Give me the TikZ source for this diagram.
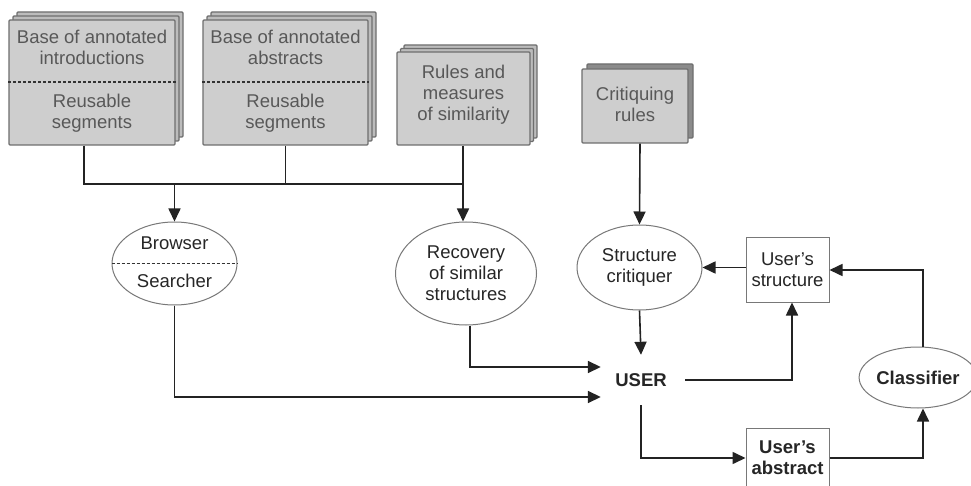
\documentclass[tikz,border=0pt]{standalone}
\usepackage{fontspec}
\setmainfont{Liberation Sans}
\usetikzlibrary{arrows.meta,shapes.geometric,calc}
\definecolor{boxfill}{RGB}{206,206,206}
\definecolor{backfill}{RGB}{188,188,188}
\definecolor{boxdraw}{RGB}{110,110,110}
\definecolor{boxtext}{RGB}{88,88,88}
\definecolor{linecol}{RGB}{35,35,35}
\definecolor{elldraw}{RGB}{120,120,120}
\tikzset{
  dbbox/.style={draw=boxdraw, fill=boxfill, line width=1.2pt, rectangle, rounded corners=1pt, inner sep=0pt},
  backbox/.style={draw=boxdraw, fill=backfill, line width=1.2pt, rectangle, rounded corners=1pt, inner sep=0pt},
  boxtxt/.style={text=boxtext, align=center, font=\fontsize{18.5}{21}\selectfont, inner sep=0pt},
  proc/.style={ellipse, draw=elldraw, line width=1pt, fill=white, inner sep=0pt, align=center, font=\fontsize{18.5}{21}\selectfont, text=black!85},
  plainbox/.style={rectangle, draw=elldraw, line width=1pt, fill=white, inner sep=0pt, align=center, font=\fontsize{18.5}{21}\selectfont, text=black!85},
  plaintxt/.style={inner sep=0pt, font=\fontsize{18.5}{21}\selectfont, text=black!85},
  wire/.style={draw=linecol, line width=1.6pt},
  arr/.style={wire, -{Triangle[length=13pt,width=12pt]}},
  sep/.style={draw=black!80, line width=1.2pt, dash pattern=on 3pt off 2pt},
}
\begin{document}
\begin{tikzpicture}[x=1pt,y=-1pt]
\clip (0,0) rectangle (971,486);
\fill[white] (0,0) rectangle (971,486);

% Box 1
\node[backbox, minimum width=166pt, minimum height=125pt, xshift=8pt, yshift=8pt] (b1c) at (92,82.5) {};
\node[backbox, minimum width=166pt, minimum height=125pt, xshift=4pt, yshift=4pt] (b1b) at (92,82.5) {};
\node[dbbox, minimum width=166pt, minimum height=125pt] (b1) at (92,82.5) {};
\draw[sep] (b1.west |- 0,82) -- (b1.east |- 0,82);
\node[boxtxt] (b1t) at (92,47) {Base of annotated\\introductions};
\node[boxtxt] (b1s) at (92,113) {Reusable\\segments};

% Box 2
\node[backbox, minimum width=165pt, minimum height=125pt, xshift=8pt, yshift=8pt] (b2c) at (285.5,82.5) {};
\node[backbox, minimum width=165pt, minimum height=125pt, xshift=4pt, yshift=4pt] (b2b) at (285.5,82.5) {};
\node[dbbox, minimum width=165pt, minimum height=125pt] (b2) at (285.5,82.5) {};
\draw[sep] (b2.west |- 0,82) -- (b2.east |- 0,82);
\node[boxtxt] (b2t) at (285.5,47) {Base of annotated\\abstracts};
\node[boxtxt] (b2s) at (285.5,113) {Reusable\\segments};

% Box 3
\node[backbox, minimum width=133pt, minimum height=93pt, xshift=7pt, yshift=7pt] (b3c) at (463.5,98.5) {};
\node[backbox, minimum width=133pt, minimum height=93pt, xshift=3.5pt, yshift=3.5pt] (b3b) at (463.5,98.5) {};
\node[dbbox, minimum width=133pt, minimum height=93pt] (b3) at (463.5,98.5) {};
\node[boxtxt] (b3t) at (463.5,95) {Rules and\\measures\\of similarity};

% Box 4
\node[backbox, fill=boxdraw!80, minimum width=106pt, minimum height=74pt, xshift=5pt, yshift=5pt] (b4b) at (635,106) {};
\node[dbbox, minimum width=106pt, minimum height=74pt] (b4) at (635,106) {};
\node[boxtxt] (b4t) at (635,104) {Critiquing\\rules};

% Process ellipses
\node[proc, minimum width=125pt, minimum height=83pt] (bs) at (174.5,263.5) {};
\draw[sep] (bs.west) -- (bs.east);
\node[plaintxt] (bst) at (174.5,243) {Browser};
\node[plaintxt] (bss) at (174.5,281) {Searcher};

\node[proc, minimum width=141pt, minimum height=103pt] (rec) at (466,273.5) {Recovery\\of similar\\structures};
\node[proc, minimum width=125pt, minimum height=85pt] (sc) at (639.5,267.5) {Structure\\critiquer};
\node[plainbox, minimum width=83pt, minimum height=64pt] (us) at (787.5,270) {User's\\structure};
\node[proc, minimum width=106pt, minimum height=61pt, font=\fontsize{18.5}{21}\selectfont\bfseries] (cls) at (918,377.5) {Classifier};
\node[plainbox, minimum width=83pt, minimum height=60pt, font=\fontsize{18.5}{21}\selectfont\bfseries] (ua) at (787.5,458) {User's\\abstract};
\node[plaintxt, minimum width=80pt, minimum height=50pt, font=\fontsize{18.5}{21}\selectfont\bfseries] (user) at (641,380) {USER};

% Bus
\coordinate (busL) at (84,184);
\coordinate (busR) at (463,184);
\draw[wire] (b1.south -| busL) -- (busL) -- (busR);
\draw[wire] (b2.south) -- (b2.south |- busL);
\draw[wire] (b3.south -| busR) -- (busR);
\draw[arr] (bs.north |- busL) -- (bs.north);
\draw[arr] (busR) -- (busR |- rec.north);

% Right part
\draw[arr] ([xshift=5pt]b4.south) -- (sc.north);
\draw[arr] (sc.south) -- (user.north);
\draw[arr] (us.west |- sc.east) -- (sc.east);
\draw[arr] ([xshift=4pt]user.east) -| ([xshift=4.5pt]us.south);
\draw[arr] ([xshift=5pt]cls.north) |- (us.east);
\draw[arr] (user.south) |- (ua.west);
\draw[arr] (ua.east) -| ([xshift=5pt]cls.south);

% Left inputs to USER
\draw[arr] ([xshift=4pt]rec.south) |- ([yshift=13pt]user.west);
\draw[arr] (bs.south) |- ([yshift=-17pt]user.west);
\end{tikzpicture}
\end{document}
